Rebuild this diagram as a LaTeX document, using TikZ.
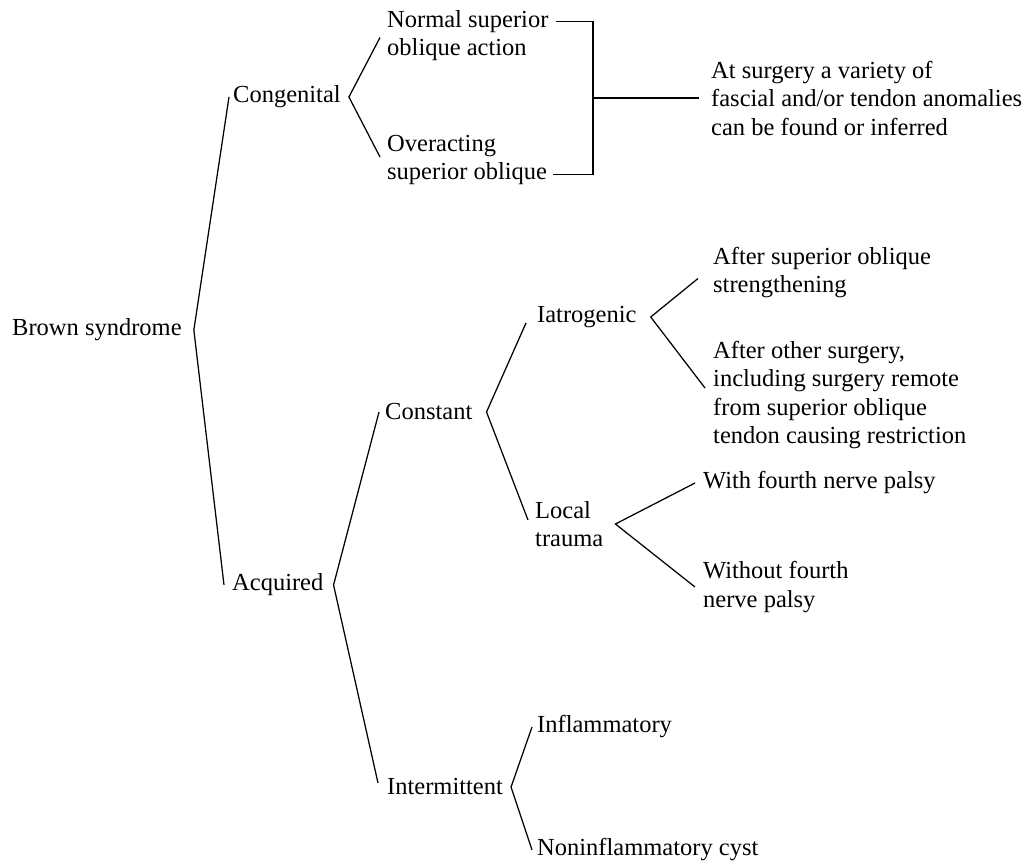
\documentclass[tikz,border=0pt]{standalone}
\usepackage{fontspec}
\setmainfont{Liberation Serif}
\begin{document}
\begin{tikzpicture}[x=1pt,y=-1pt,
  lbl/.style={anchor=west,inner sep=0pt,align=left,font=\fontsize{24.5}{28.5}\selectfont},
  conn/.style={line width=1.25pt,line join=miter}]
\useasboundingbox (0,0) rectangle (1024,866);
% nodes
\node[lbl] (brown) at (12,330) {Brown syndrome};
\node[lbl] (cong) at (233,97) {Congenital};
\node[lbl] (acq) at (232,585) {Acquired};
\node[lbl] (nso) at (387,35.5) {Normal superior\\oblique action};
\node[lbl] (over) at (387,160) {Overacting\\superior oblique};
\node[lbl] (surg) at (711,98) {At surgery a variety of\\fascial and/or tendon anomalies\\can be found or inferred};
\node[lbl] (const) at (385,412) {Constant};
\node[lbl] (iatro) at (537,317) {Iatrogenic};
\node[lbl] (after1) at (713,272.5) {After superior oblique\\strengthening};
\node[lbl] (after2) at (713,395) {After other surgery,\\including surgery remote\\from superior oblique\\tendon causing restriction};
\node[lbl] (local) at (535,524) {Local\\trauma};
\node[lbl] (with) at (703,483) {With fourth nerve palsy};
\node[lbl] (without) at (703,587) {Without fourth\\nerve palsy};
\node[lbl] (inter) at (387,787) {Intermittent};
\node[lbl] (infl) at (537,727) {Inflammatory};
\node[lbl] (nonin) at (537,850) {Noninflammatory cyst};
% vertices
\coordinate (vB) at ([xshift=12pt]brown.east);
\coordinate (vC) at ([xshift=8pt]cong.east);
\coordinate (vA) at ([xshift=10pt]acq.east);
\coordinate (vK) at ([xshift=14pt]const.east);
\coordinate (vI) at ([xshift=14pt]iatro.east);
\coordinate (vL) at ([xshift=12pt]local.east);
\coordinate (vT) at ([xshift=8pt]inter.east);
\coordinate (bk) at (593,98);
% connectors
\draw[conn] ([xshift=-4pt]cong.west) -- (vB) -- ([xshift=-8pt]acq.west);
\draw[conn] ([xshift=-7pt,yshift=-2pt]nso.west) -- (vC) -- ([xshift=-7pt,yshift=3pt]over.west);
\draw[conn] ([xshift=-6pt]const.west) -- (vA) -- ([xshift=-9pt,yshift=4pt]inter.west);
\draw[conn] ([xshift=-11pt,yshift=-6pt]iatro.west) -- (vK) -- ([xshift=-7pt,yshift=4pt]local.west);
\draw[conn] ([xshift=-15pt,yshift=-6pt]after1.west) -- (vI) -- ([xshift=-8pt,yshift=7pt]after2.west);
\draw[conn] ([xshift=-8pt]with.west) -- (vL) -- ([xshift=-8pt]without.west);
\draw[conn] ([xshift=-5pt]infl.west) -- (vT) -- ([xshift=-5pt]nonin.west);
\draw[conn] ([xshift=7pt,yshift=14.25pt]nso.east) -| (bk) |- ([xshift=6pt,yshift=-14.25pt]over.east);
\draw[conn] (bk) -- ([xshift=-12pt]surg.west);
\end{tikzpicture}
\end{document}
